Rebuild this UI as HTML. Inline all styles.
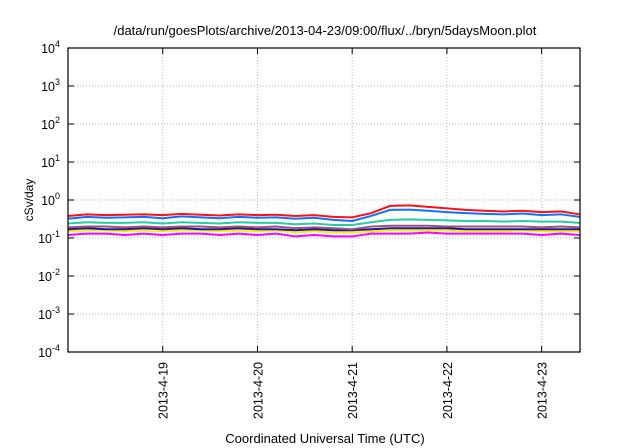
<!DOCTYPE html>
<html><head><meta charset="utf-8"><style>
body{margin:0;background:#fff}
svg{display:block;font-family:"Liberation Sans",sans-serif}
</style></head><body>
<svg id="c" width="640" height="448">
<text x="325" y="35" font-size="13" text-anchor="middle">/data/run/goesPlots/archive/2013-04-23/09:00/flux/../bryn/5daysMoon.plot</text>
<text transform="translate(33,200) rotate(-90)" font-size="12" text-anchor="middle">cSv/day</text>
<text x="325" y="443" font-size="13" text-anchor="middle">Coordinated Universal Time (UTC)</text>
<g id="grid"></g><g id="series"></g><g id="axes"></g>
</svg>
<script>
const xTickLabels=["2013-4-19","2013-4-20","2013-4-21","2013-4-22","2013-4-23"];
const xTickDays=[1,2,3,4,5];
const yTickExps=[-4,-3,-2,-1,0,1,2,3,4];
const times=[0,0.2,0.4,0.6,0.8,1.0,1.2,1.4,1.6,1.8,2.0,2.2,2.4,2.6,2.8,3.0,3.2,3.4,3.6,3.8,4.0,4.2,4.4,4.6,4.8,5.0,5.2,5.4];
const red=[0.38,0.42,0.40,0.41,0.42,0.40,0.43,0.41,0.39,0.42,0.40,0.41,0.38,0.40,0.36,0.35,0.45,0.70,0.72,0.66,0.60,0.55,0.52,0.50,0.52,0.48,0.50,0.42];
const blue=[0.32,0.36,0.34,0.35,0.36,0.33,0.37,0.35,0.33,0.36,0.34,0.35,0.32,0.34,0.30,0.28,0.38,0.55,0.56,0.52,0.48,0.45,0.43,0.42,0.44,0.40,0.42,0.36];
const teal=[0.24,0.26,0.25,0.25,0.26,0.24,0.26,0.25,0.24,0.26,0.25,0.25,0.23,0.24,0.22,0.22,0.26,0.30,0.31,0.30,0.29,0.28,0.28,0.27,0.28,0.27,0.27,0.25];
const purple=[0.19,0.20,0.20,0.19,0.20,0.19,0.20,0.20,0.19,0.20,0.19,0.20,0.18,0.19,0.18,0.17,0.20,0.21,0.21,0.21,0.20,0.20,0.20,0.20,0.20,0.19,0.20,0.19];
const navy=[0.17,0.18,0.17,0.17,0.18,0.17,0.18,0.17,0.17,0.18,0.17,0.17,0.16,0.17,0.16,0.16,0.17,0.18,0.18,0.18,0.18,0.17,0.17,0.17,0.17,0.17,0.17,0.17];
const yellow=[0.15,0.16,0.16,0.15,0.16,0.15,0.16,0.16,0.15,0.16,0.15,0.16,0.14,0.15,0.14,0.14,0.15,0.16,0.16,0.16,0.16,0.15,0.15,0.15,0.16,0.15,0.15,0.15];
const magenta=[0.12,0.13,0.13,0.12,0.13,0.12,0.13,0.13,0.12,0.13,0.12,0.13,0.11,0.12,0.11,0.11,0.13,0.13,0.13,0.14,0.13,0.13,0.13,0.13,0.13,0.12,0.13,0.12];
const L=68,R=580,T=48,B=352,NS="http://www.w3.org/2000/svg";
const xs=d=>L+d*(R-L)/5.405;
const ys=v=>T+(4-Math.log10(v))*(B-T)/8;
function mk(tag,attrs,parent){const e=document.createElementNS(NS,tag);for(const k in attrs)e.setAttribute(k,attrs[k]);parent.appendChild(e);return e;}
const grid=document.getElementById('grid'),axes=document.getElementById('axes'),ser=document.getElementById('series');
yTickExps.forEach(ex=>{const y=ys(Math.pow(10,ex));
 if(ex>-4&&ex<4){const g=mk('line',{x1:L,x2:R,y1:y,y2:y,stroke:'#bbb','stroke-dasharray':'1,2'},grid);}
 mk('line',{x1:L,x2:L+6,y1:y,y2:y,stroke:'#000'},axes);mk('line',{x1:R-6,x2:R,y1:y,y2:y,stroke:'#000'},axes);
 const t=mk('text',{x:L-8,y:y+5,'font-size':12.5,'text-anchor':'end'},axes);
 
 t.innerHTML='10<tspan dy="-6" font-size="9">'+ex+'</tspan>';});
xTickDays.forEach((d,i)=>{const x=xs(d);
 const g=mk('line',{x1:x,x2:x,y1:T,y2:B,stroke:'#bbb','stroke-dasharray':'1,2'},grid);
 mk('line',{x1:x,x2:x,y1:B-6,y2:B,stroke:'#000'},axes);mk('line',{x1:x,x2:x,y1:T,y2:T+6,stroke:'#000'},axes);
 const t=mk('text',{transform:`translate(${x+5},${B+10}) rotate(-90)`,'font-size':12.5,'text-anchor':'end'},axes);
 t.textContent=xTickLabels[i];});
const fr=mk('rect',{x:L,y:T,width:R-L,height:B-T,fill:'none',stroke:'#000','stroke-width':1.2},axes);

[[magenta,'#ff00ff','magenta'],[yellow,'#ffee00','yellow'],[navy,'#1a1aa0','navy'],[purple,'#a05080','purple'],[teal,'#20d0a0','teal'],[red,'#ff1010','red'],[blue,'#1070ff','blue']].forEach(([arr,c,n])=>{
 const p=mk('polyline',{points:arr.map((v,i)=>xs(times[i])+','+ys(v)).join(' '),fill:'none',stroke:c,'stroke-width':2},ser);
 });
</script>
</body></html>
